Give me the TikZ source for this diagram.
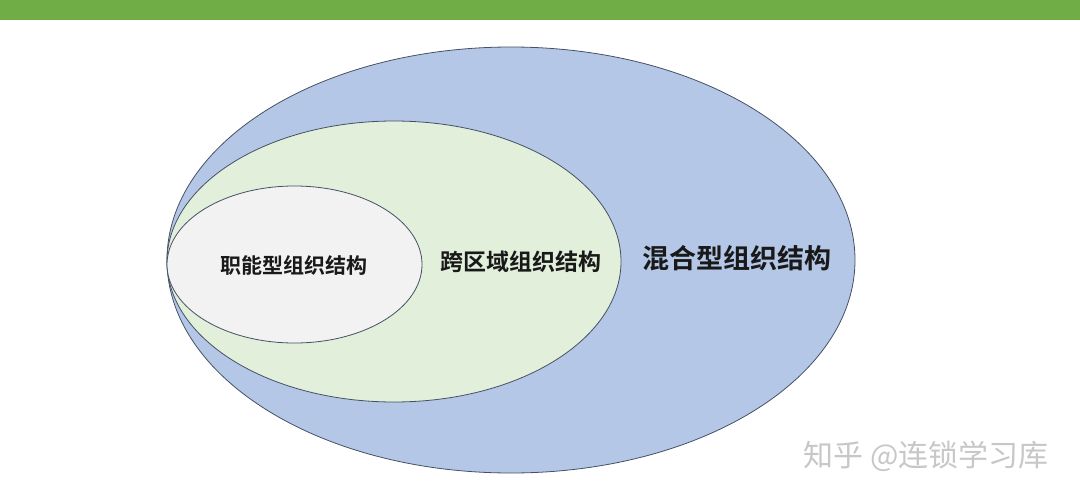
\documentclass[tikz,border=0pt]{standalone}
\usepackage{fontspec}
\usetikzlibrary{shapes.geometric}
\newfontfamily\cjk{Noto Sans CJK SC}
\newfontfamily\cjkbold{Noto Sans CJK SC Bold}

\definecolor{barGreen}{RGB}{112,173,71}
\definecolor{outerBlue}{RGB}{180,199,231}
\definecolor{midGreen}{RGB}{226,239,218}
\definecolor{innerGray}{RGB}{242,242,242}
\definecolor{rimGray}{RGB}{70,80,100}

\tikzset{
	ring/.style={ellipse, draw=rimGray, line width=0.8pt, inner sep=0pt},
	ringlabel/.style={font=\cjkbold, text=black!90}
}

\begin{document}
\begin{tikzpicture}[x=1pt, y=-1pt]
		\useasboundingbox (0,0) rectangle (1080,498);

		% Draw the top bar
		\fill[barGreen] (0,0) rectangle (1080,20);

		% Draw the nested ellipses
		\node[ring, fill=outerBlue, minimum width=688pt, minimum height=426pt] (hybrid) at (511, 260) {};
		\node[ring, fill=midGreen, minimum width=454pt, minimum height=281pt] (cross) at (394, 261.5) {};
		\node[ring, fill=innerGray, minimum width=255pt, minimum height=157pt] (func) at (294.5, 264.5) {};

		% Labels
		\node[ringlabel, font=\cjkbold\fontsize{21}{21}\selectfont] (funcText) at (294, 265) {职能型组织结构};
		\node[ringlabel, font=\cjkbold\fontsize{23}{23}\selectfont] (crossText) at (521, 262) {跨区域组织结构};
		\node[ringlabel, font=\cjkbold\fontsize{27}{27}\selectfont] (hybridText) at (737, 258) {混合型组织结构};

		% Watermark
		\node[font=\cjk\fontsize{30}{30}\selectfont, text=black!22, anchor=east] (mark) at (1052, 456) {知乎 @连锁学习库};

	\end{tikzpicture}
\end{document}
